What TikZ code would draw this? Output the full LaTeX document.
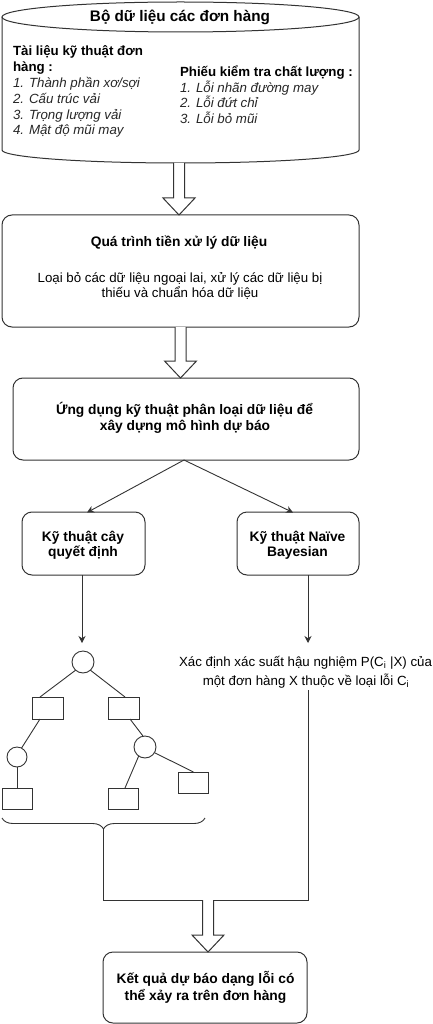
\documentclass[tikz,border=0pt]{standalone}
\usepackage{fontspec}
\setmainfont{Liberation Sans}
\usetikzlibrary{calc,arrows.meta,decorations.pathreplacing}
\definecolor{lc}{HTML}{333333}
\newcommand\hollowarrow[2]{%
  \draw[lc,line width=1pt,fill=white] let \p1=(#1), \p2=(#2) in
    (\x1-5.5pt,\y1) -- (\x1-5.5pt,\y2+17pt) -- (\x1-16pt,\y2+17pt) -- (\x1,\y2)
    -- (\x1+16pt,\y2+17pt) -- (\x1+5.5pt,\y2+17pt) -- (\x1+5.5pt,\y1);}
\begin{document}
\begin{tikzpicture}[x=1pt,y=-1pt,line width=0.9pt,
  every node/.style={inner sep=0pt,outer sep=0pt},
  box/.style={draw=lc,rounded corners=10pt,line width=1pt},
  bt/.style={font=\bfseries\fontsize{13.8}{16}\selectfont,anchor=base},
  btw/.style={font=\bfseries\fontsize{13.3}{16}\selectfont,anchor=base west},
  nt/.style={font=\fontsize{13.3}{16}\selectfont,anchor=base},
  it/.style={font=\itshape\fontsize{13.3}{16}\selectfont,anchor=base west,text=black!85},
  leaf/.style={draw=lc,minimum width=31pt,minimum height=22pt},
  dot/.style={draw=lc,circle,minimum size=22pt},
  arr/.style={draw=lc,-{Stealth[length=7pt,width=7pt]}}]
\useasboundingbox (0,0) rectangle (433,1024);
% cylinder
\node[minimum width=357pt,minimum height=163pt] (db) at (180.5,83) {};
\draw[lc,line width=1pt] (2,17) -- (2,150) arc[start angle=180,end angle=360,x radius=178.5pt,y radius=13pt] -- (359,17);
\draw[lc,line width=1pt] (180.5,17) ellipse [x radius=178.5pt,y radius=15pt];
\node[bt,font=\bfseries\fontsize{15.3}{17}\selectfont] (dbt) at (180,22) {Bộ dữ liệu các đơn hàng};
\node[btw] (l1) at (13,56) {Tài liệu kỹ thuật đơn};
\node[btw] (l2) at (13,72) {hàng :};
\node[it] (l3) at (13,88) {1. Thành phần xơ/sợi};
\node[it] (l4) at (13,104) {2. Cấu trúc vải};
\node[it] (l5) at (13,119.5) {3. Trọng lượng vải};
\node[it] (l6) at (13,135) {4. Mật độ mũi may};
\node[btw] (r1) at (180,77) {Phiếu kiểm tra chất lượng :};
\node[it] (r2) at (180,92.5) {1. Lỗi nhãn đường may};
\node[it] (r3) at (180,108) {2. Lỗi đứt chỉ};
\node[it] (r4) at (180,124) {3. Lỗi bỏ mũi};
% preprocessing
\node[box,minimum width=357pt,minimum height=112pt] (pre) at (180.5,271) {};
\node[bt] (pret) at (179,246) {Quá trình tiền xử lý dữ liệu};
\node[nt] (preb1) at (180,282) {Loại bỏ các dữ liệu ngoại lai, xử lý các dữ liệu bị};
\node[nt] (preb2) at (180,297) {thiếu và chuẩn hóa dữ liệu};
% classification
\node[box,minimum width=346pt,minimum height=82pt] (cls) at (186,419) {};
\node[bt] (cls1) at (184.5,414) {Ứng dụng kỹ thuật phân loại dữ liệu để};
\node[bt] (cls2) at (185,430) {xây dựng mô hình dự báo};
% techniques
\node[box,minimum width=123pt,minimum height=63pt] (dt) at (83.5,543.5) {};
\node[bt] (dt1) at (83,541.7) {Kỹ thuật cây};
\node[bt] (dt2) at (83,556.7) {quyết định};
\node[box,minimum width=122pt,minimum height=63pt] (nb) at (298,543.5) {};
\node[bt] (nb1) at (297.5,541.7) {Kỹ thuật Naïve};
\node[bt] (nb2) at (297.5,556.7) {Bayesian};
\coordinate (apex) at (184,460);
\draw[arr] (apex) -- (87,512.5);
\draw[arr] (apex) -- (293,512.5);
% tree
\node[dot] (root) at (83,662) {};
\node[leaf] (A) at (47.5,708) {};
\node[leaf] (B) at (123.5,708) {};
\node[dot,minimum size=20pt] (L) at (17,757) {};
\node[dot] (R) at (145,747) {};
\node[leaf,minimum width=30pt,minimum height=21pt] (C) at (17,798.5) {};
\node[leaf,minimum width=30pt,minimum height=21pt] (D) at (123.5,798.5) {};
\node[leaf,minimum width=30pt,minimum height=21pt] (E) at (193.5,782.5) {};
\draw[lc] (root.228) -- ([xshift=-7.5pt]A.north);
\draw[lc] (root.-48) -- ([xshift=1.5pt]B.north);
\draw[lc] ([xshift=-7.5pt]A.south) -- (L.63);
\draw[lc] (L.south) -- (C.north);
\draw[lc] ([xshift=6.5pt]B.south) -- (R.100);
\draw[lc] (R.235) -- ([xshift=1.5pt]D.north);
\draw[lc] (R.-31) -- (E.north);
\draw[arr] ([xshift=-1.5pt]dt.south) -- ([xshift=-1pt,yshift=8pt]root.north);
% bayes
\node[nt] (bay1) at (305.5,666) {Xác định xác suất hậu nghiệm P(C\textsubscript{i} |X) của};
\node[nt] (bay2) at (306,685) {một đơn hàng X thuộc về loại lỗi C\textsubscript{i}};
\coordinate (btip) at (308,643);
\draw[arr] (nb.south -| btip) -- (btip);
% brace and join
\draw[lc,decorate,decoration={brace,amplitude=11pt}] (205,818) -- (2,818);
\coordinate (braceTip) at (103.5,829);
\coordinate (bayout) at (308,690);
\coordinate (join) at (208,900);
\draw[lc] (braceTip) |- (bayout |- join) -- (bayout);
% result
\node[box,minimum width=204pt,minimum height=71pt] (res) at (205,987.5) {};
\node[bt] (res1) at (205.5,983.3) {Kết quả dự báo dạng lỗi có};
\node[bt] (res2) at (205.5,1000.7) {thể xảy ra trên đơn hàng};
% hollow arrows
\hollowarrow{179,163}{pre.north}
\hollowarrow{pre.south}{cls.north}
\hollowarrow{join}{res.north}
\end{tikzpicture}
\end{document}
